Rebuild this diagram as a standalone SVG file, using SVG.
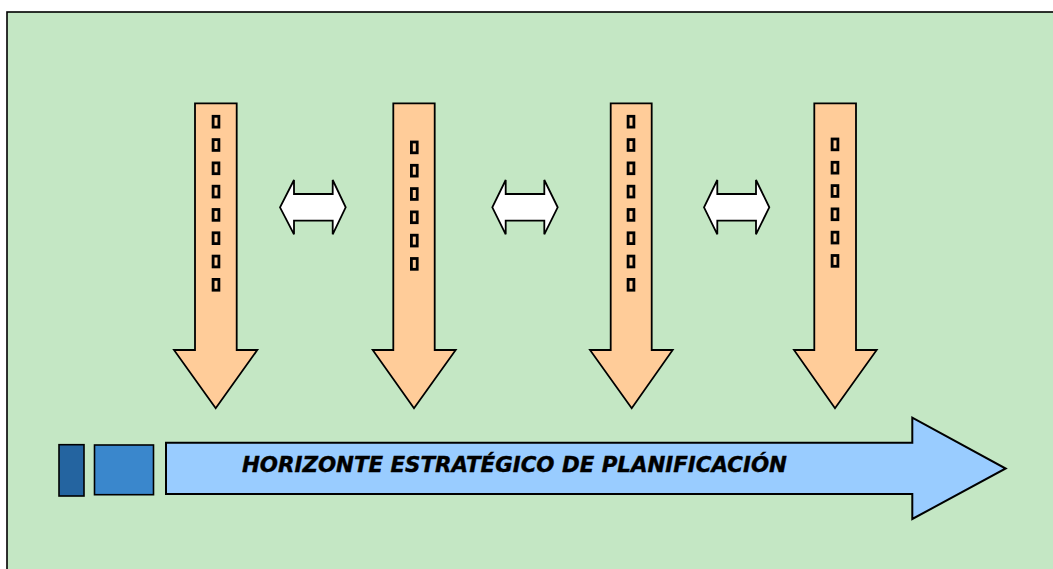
<svg xmlns="http://www.w3.org/2000/svg" width="1053" height="569" viewBox="0 0 1053 569">
<style>
.bg{fill:#c4e7c4;stroke:#000;stroke-width:1.6}
.down{fill:#ffcc99;stroke:#000;stroke-width:1.8;stroke-linejoin:miter}
.tofu{fill:none;stroke:#000;stroke-width:2.8}
.dbl{fill:#fff;stroke:#000;stroke-width:1.8}
.big{fill:#99ccff;stroke:#000;stroke-width:2}
.lbl{font-family:"DejaVu Sans","Liberation Sans",sans-serif;font-weight:bold;font-style:italic;font-size:20.5px;fill:#000;stroke:#000;stroke-width:0.4}
</style>
<defs>
<g id="tofu6">
<rect class="tofu" x="0" y="0" width="5.8" height="10.8"/>
<rect class="tofu" x="0" y="23.3" width="5.8" height="10.8"/>
<rect class="tofu" x="0" y="46.6" width="5.8" height="10.8"/>
<rect class="tofu" x="0" y="69.9" width="5.8" height="10.8"/>
<rect class="tofu" x="0" y="93.2" width="5.8" height="10.8"/>
<rect class="tofu" x="0" y="116.5" width="5.8" height="10.8"/>
</g>
<g id="tofu8">
<use href="#tofu6"/>
<rect class="tofu" x="0" y="139.8" width="5.8" height="10.8"/>
<rect class="tofu" x="0" y="163.1" width="5.8" height="10.8"/>
</g>
</defs>
<rect class="bg" x="7" y="12" width="1060" height="570"/>
<g id="arrow1">
<path class="down" d="M195,103.3 H236.7 V350 H257.3 L215.7,408.3 L174,350 H195 Z"/>
<use href="#tofu8" x="213.1" y="116.3"/>
</g>
<g id="arrow2">
<path class="down" d="M393.3,103.3 H434.7 V350 H455.7 L414,408.3 L372.7,350 H393.3 Z"/>
<use href="#tofu6" x="411.4" y="142"/>
</g>
<g id="arrow3">
<path class="down" d="M610.7,103.3 H651.7 V350 H672.7 L631.7,408.3 L590,350 H610.7 Z"/>
<use href="#tofu8" x="628.1" y="116.3"/>
</g>
<g id="arrow4">
<path class="down" d="M814.3,103.3 H856 V350 H876.7 L835,408.3 L794,350 H814.3 Z"/>
<use href="#tofu6" x="832.1" y="139"/>
</g>
<g id="connectors">
<path class="dbl" d="M280,207.3 L294,180 V194 H332.7 V180 L345.7,207.3 L332.7,234.3 V220.7 H294 V234.3 Z"/>
<path class="dbl" d="M492.3,207.3 L505.7,180 V194 H544.3 V180 L557.7,207.3 L544.3,234.3 V220.7 H505.7 V234.3 Z"/>
<path class="dbl" d="M704,207.3 L717.3,180 V194 H756 V180 L769.3,207.3 L756,234.3 V220.7 H717.3 V234.3 Z"/>
</g>
<g id="block1">
<rect x="59" y="444.7" width="25" height="51.3" fill="#2464a0" stroke="#000" stroke-width="1.6"/>
</g>
<g id="block2">
<rect x="94.5" y="445" width="59" height="49.7" fill="#3a87cc" stroke="#000" stroke-width="1.6"/>
</g>
<g id="horizonte">
<path class="big" d="M166,442.7 H912.3 V417.7 L1005.7,468.5 L912.3,519 V494 H166 Z"/>
<text class="lbl" x="242" y="471.8" textLength="545" lengthAdjust="spacingAndGlyphs">HORIZONTE ESTRATÉGICO DE PLANIFICACIÓN</text>
</g>
</svg>
